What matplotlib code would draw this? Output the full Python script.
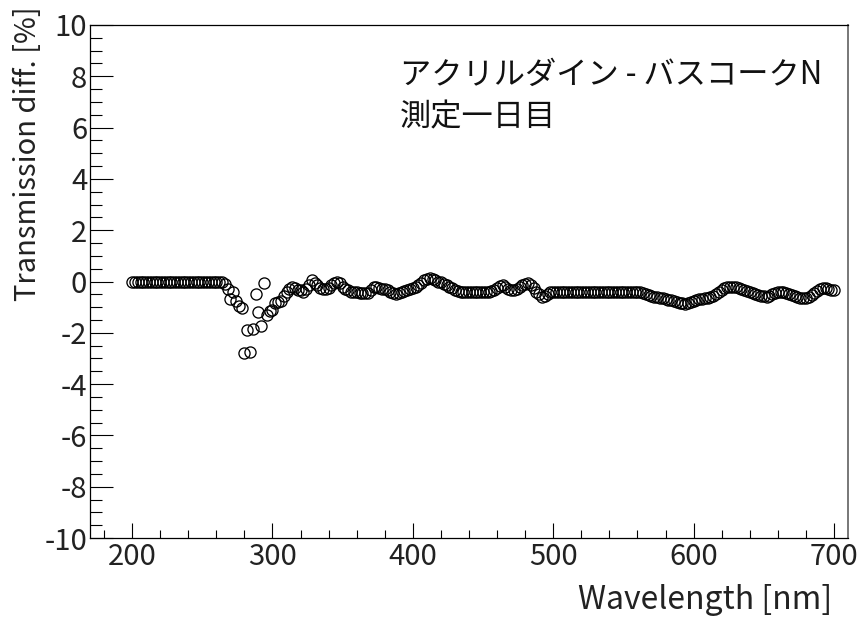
import numpy as np
import matplotlib
matplotlib.use("Agg")
import matplotlib.pyplot as plt
from matplotlib.ticker import MultipleLocator

plt.rcParams['font.family'] = ['Noto Sans CJK JP', 'DejaVu Sans']
plt.rcParams['axes.unicode_minus'] = False

# wavelength [nm], one point every 2 nm
wavelength = np.arange(200, 702, 2)

# transmission difference [%]
trans_diff = [
    # 200 - 264
    0.0, 0.0, 0.0, 0.0, 0.0, 0.0, 0.0, 0.0, 0.0, 0.0, 0.0,
    0.0, 0.0, 0.0, 0.0, 0.0, 0.0, 0.0, 0.0, 0.0, 0.0, 0.0,
    0.0, 0.0, 0.0, 0.0, 0.0, 0.0, 0.0, 0.0, 0.0, 0.0, 0.0,
    # 266 - 298
    -0.1, -0.3, -0.7, -0.4, -0.75, -0.95, -1.05, -2.8, -1.9, -2.75,
    -1.85, -0.5, -1.2, -1.75, -0.05, -1.3, -1.15,
    # 300 - 348
    -1.1, -0.85, -0.8, -0.75, -0.55, -0.4, -0.3, -0.2, -0.25, -0.35,
    -0.35, -0.4, -0.3, -0.15, 0.05, -0.05, -0.15, -0.25, -0.3, -0.3,
    -0.25, -0.15, -0.05, 0.0, -0.05,
    # 350 - 398
    -0.2, -0.3, -0.35, -0.4, -0.4, -0.42, -0.44, -0.45, -0.46, -0.45,
    -0.35, -0.22, -0.2, -0.25, -0.28, -0.3, -0.35, -0.4, -0.45, -0.47,
    -0.45, -0.42, -0.38, -0.33, -0.3,
    # 400 - 448
    -0.27, -0.2, -0.12, -0.05, 0.05, 0.1, 0.12, 0.08, 0.04, 0.0,
    -0.02, -0.08, -0.15, -0.22, -0.27, -0.33, -0.38, -0.4, -0.4, -0.4,
    -0.4, -0.4, -0.4, -0.4, -0.4,
    # 450 - 498
    -0.4, -0.4, -0.4, -0.38, -0.32, -0.25, -0.18, -0.14, -0.2, -0.28,
    -0.33, -0.33, -0.28, -0.2, -0.12, -0.08, -0.07, -0.12, -0.25, -0.4,
    -0.5, -0.6, -0.58, -0.48, -0.42,
    # 500 - 548
    -0.4, -0.4, -0.4, -0.4, -0.4, -0.4, -0.4, -0.4, -0.4, -0.4,
    -0.4, -0.4, -0.4, -0.4, -0.4, -0.4, -0.4, -0.4, -0.4, -0.4,
    -0.4, -0.4, -0.4, -0.4, -0.4,
    # 550 - 598
    -0.4, -0.4, -0.4, -0.4, -0.4, -0.4, -0.42, -0.46, -0.5, -0.54,
    -0.57, -0.6, -0.62, -0.64, -0.66, -0.68, -0.71, -0.74, -0.77, -0.8,
    -0.82, -0.84, -0.86, -0.84, -0.8,
    # 600 - 648
    -0.76, -0.73, -0.7, -0.68, -0.66, -0.64, -0.62, -0.58, -0.5, -0.4,
    -0.32, -0.26, -0.22, -0.2, -0.2, -0.22, -0.26, -0.3, -0.34, -0.38,
    -0.42, -0.45, -0.48, -0.52, -0.55,
    # 650 - 700
    -0.58, -0.6, -0.58, -0.5, -0.44, -0.4, -0.4, -0.42, -0.45, -0.48,
    -0.52, -0.56, -0.6, -0.64, -0.66, -0.66, -0.6, -0.52, -0.44, -0.36,
    -0.3, -0.27, -0.27, -0.3, -0.35, -0.35,
]

fig = plt.figure(figsize=(8.66, 6.2), dpi=100)
ax = fig.add_axes([90 / 866, 1 - 538 / 620, 758 / 866, 513 / 620])

ax.plot(wavelength, trans_diff, linestyle='none', marker='o', markersize=8,
        markerfacecolor='none', markeredgecolor='black', markeredgewidth=0.95)

ax.set_xlim(170, 710)
ax.set_ylim(-10, 10)
ax.xaxis.set_major_locator(MultipleLocator(100))
ax.xaxis.set_minor_locator(MultipleLocator(20))
ax.yaxis.set_major_locator(MultipleLocator(2))
ax.yaxis.set_minor_locator(MultipleLocator(0.5))

ax.tick_params(axis='both', which='both', direction='in', width=0.8,
               top=False, right=False, labelsize=21)
ax.tick_params(axis='x', which='major', length=11, pad=3)
ax.tick_params(axis='x', which='minor', length=5.5)
ax.tick_params(axis='y', which='major', length=16.5, pad=2)
ax.tick_params(axis='y', which='minor', length=8.3)
for lab in ax.get_xticklabels() + ax.get_yticklabels():
    lab.set_color('#222222')

for s in ['left', 'bottom', 'top']:
    ax.spines[s].set_linewidth(0.9)
ax.spines['right'].set_linewidth(1.4)
ax.spines['right'].set_color('#777777')

fig.text(832 / 866, 1 - 600 / 620, 'Wavelength [nm]', ha='right', va='center',
         fontsize=23, color='#222222')
fig.text(28 / 866, 1 - 6 / 620, 'Transmission diff. [%]', rotation=90,
         ha='center', va='top', fontsize=21, color='#222222')

fig.text(400 / 866, 1 - 75 / 620, 'アクリルダイン - バスコークN', ha='left',
         va='center', fontsize=22.5, color='#111111')
fig.text(400 / 866, 1 - 117 / 620, '測定一日目', ha='left',
         va='center', fontsize=22.5, color='#111111')

fig.savefig('out.png', dpi=100)
